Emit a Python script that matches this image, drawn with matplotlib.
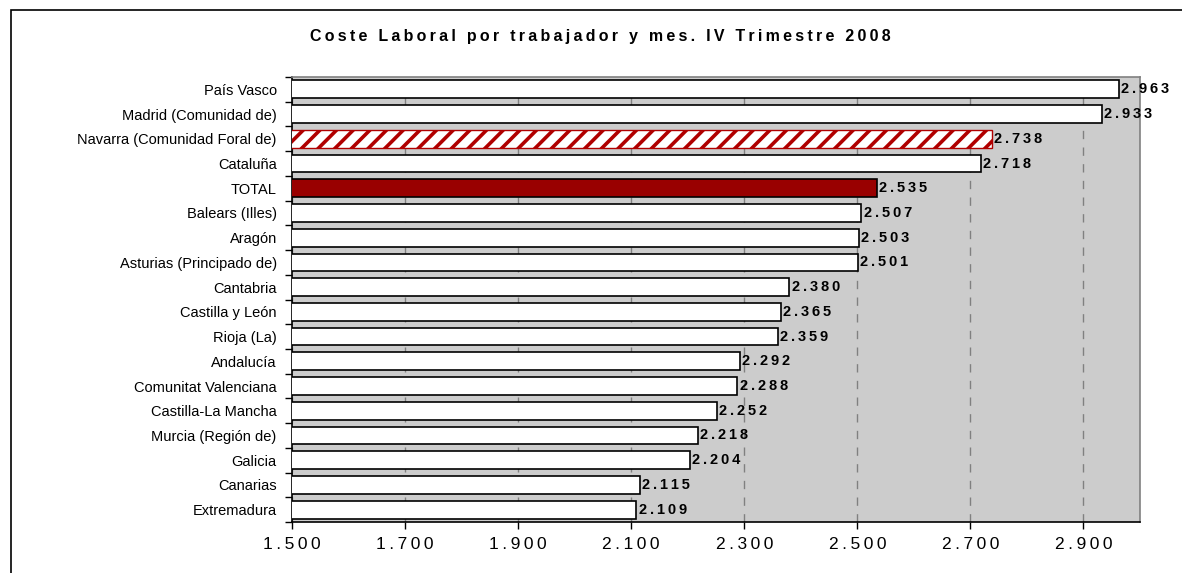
import numpy as np
import matplotlib
matplotlib.use("Agg")
import matplotlib.pyplot as plt
from matplotlib.patches import Rectangle

plt.rcParams["font.family"] = ["Liberation Sans", "DejaVu Sans"]
plt.rcParams["hatch.linewidth"] = 2.6

# Data (top to bottom as shown)
regions = [
    "País Vasco", "Madrid (Comunidad de)", "Navarra (Comunidad Foral de)",
    "Cataluña", "TOTAL", "Balears (Illes)", "Aragón",
    "Asturias (Principado de)", "Cantabria", "Castilla y León", "Rioja (La)",
    "Andalucía", "Comunitat Valenciana", "Castilla-La Mancha",
    "Murcia (Región de)", "Galicia", "Canarias", "Extremadura",
]
coste = [2.963, 2.933, 2.738, 2.718, 2.535, 2.507, 2.503, 2.501, 2.380,
         2.365, 2.359, 2.292, 2.288, 2.252, 2.218, 2.204, 2.115, 2.109]
value_labels = ["2.963", "2.933", "2.738", "2.718", "2.535", "2.507", "2.503",
                "2.501", "2.380", "2.365", "2.359", "2.292", "2.288", "2.252",
                "2.218", "2.204", "2.115", "2.109"]
x_ticks = [1.5, 1.7, 1.9, 2.1, 2.3, 2.5, 2.7, 2.9]
x_tick_labels = ["1.500", "1.700", "1.900", "2.100", "2.300", "2.500", "2.700", "2.900"]
title = "Coste Laboral por trabajador y mes. IV Trimestre 2008"


def spaced(s):
    # Excel-like wide letter spacing
    return "\u2009".join(s)


fig = plt.figure(figsize=(11.82, 5.73), dpi=100)

# outer frame of the chart
fig.patches.append(Rectangle((11 / 1182, -0.05), 1.2, 1 - 10 / 573 + 0.05,
                             transform=fig.transFigure, fill=False,
                             edgecolor="black", linewidth=1.2))

ax = fig.add_axes([292 / 1182, 1 - 522 / 573, (1140 - 292) / 1182, (522 - 77) / 573])
ax.set_facecolor("#CCCCCC")

y = np.arange(len(regions))
for i, (name, val) in enumerate(zip(regions, coste)):
    if name == "TOTAL":
        ax.barh(i, val, height=0.72, color="#990000", edgecolor="black",
                linewidth=1.2, zorder=3)
    elif name.startswith("Navarra"):
        ax.barh(i, val, height=0.72, color="white", edgecolor="#B00000",
                hatch="//", linewidth=1.0, zorder=3)
    else:
        ax.barh(i, val, height=0.72, color="white", edgecolor="black",
                linewidth=1.2, zorder=3)
    ax.text(val + 0.004, i, spaced(value_labels[i]), va="center",
            ha="left", fontsize=10.5, fontweight="bold", zorder=4)

ax.set_xlim(1.5, 3.0)
ax.set_ylim(len(regions) - 0.5, -0.5)
ax.set_xticks(x_ticks)
ax.set_xticklabels([spaced(t) for t in x_tick_labels], fontsize=12.5)
ax.set_yticks(y)
ax.set_yticklabels(regions, fontsize=10.5)
ax.set_yticks(np.arange(len(regions) + 1) - 0.5, minor=True)
ax.tick_params(axis="y", which="major", length=0, pad=11)
ax.tick_params(axis="y", which="minor", length=5, direction="out", width=1)
ax.tick_params(axis="x", which="major", length=5, direction="out", width=1, pad=6)

ax.xaxis.grid(True, linestyle=(0, (6, 6)), color="#808080", linewidth=1, zorder=1)
ax.set_axisbelow(True)

ax.spines["left"].set_color("black")
ax.spines["bottom"].set_color("black")
ax.spines["top"].set_color("#808080")
ax.spines["right"].set_color("#808080")
for s in ax.spines.values():
    s.set_linewidth(1.2)

fig.text(0.508, 1 - 36 / 573, spaced(title), ha="center", va="center",
         fontsize=11.5, fontweight="bold")

fig.savefig("out.png", dpi=100)
